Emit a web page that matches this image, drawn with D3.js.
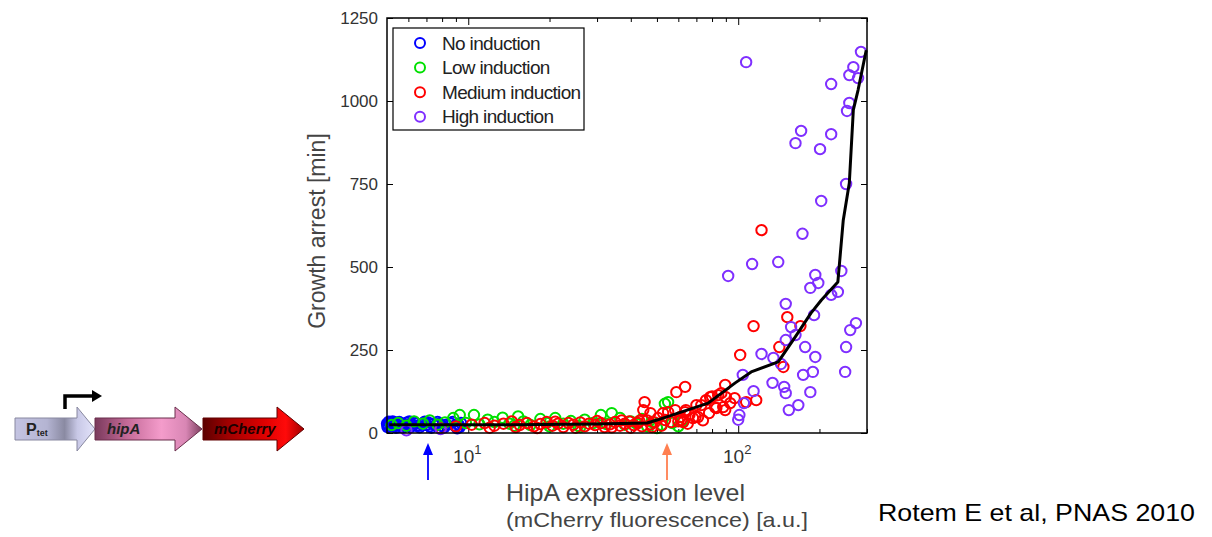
<!DOCTYPE html>
<html>
<head>
<meta charset="utf-8">
<script src="https://cdn.jsdelivr.net/npm/d3@7"></script>
<style>
  html, body { margin: 0; padding: 0; background: #fff; }
  svg { display: block; }
  text { font-family: "Liberation Sans", Arial, sans-serif; }
</style>
</head>
<body>
<svg id="fig" width="1212" height="537"></svg>
<script>
// ---- data: HipA expression (mCherry, a.u.) vs growth arrest (min) ----
const seriesNames = ["No induction", "Low induction", "Medium induction", "High induction"];
const seriesColors = ["#0000ff", "#00e000", "#ff0000", "#7f2fff"];

const noInduction = [
  [5.0,28],[5.05,22],[5.1,30],[5.15,25],[5.2,20],[5.3,27],[5.35,32],[5.45,24],[5.5,18],
  [5.6,29],[5.7,23],[5.8,26],[5.9,31],[6.0,21],[6.1,27],[6.25,24],[6.4,29],[6.55,22],
  [6.7,26],[6.85,30],[7.0,24],[7.2,20],[7.4,27],[7.6,23],[7.8,28],[8.0,21],[8.3,25],
  [8.6,29],[8.9,22],[9.2,26],[9.3,18],[7.1,32],[5.25,35],[6.3,33],
  [5.02,18],[5.08,34],[5.4,16],[5.55,33],[5.75,17],[6.05,35],[6.6,17],[6.9,34],[7.3,16],
  [7.7,33],[8.15,17],[8.75,33],[9.1,14],[9.4,30],[5.65,20],[6.15,19]
];
const lowInduction = [
  [5.2,24],[5.5,30],[5.9,22],[6.3,35],[6.8,28],[7.2,38],[7.7,25],[8.2,32],[8.8,45],
  [9.3,54],[9.8,30],[10.5,54],[11.0,26],[11.8,40],[12.5,33],[13.4,46],[14.2,28],[15.3,50],
  [16.0,35],[17.0,24],[18.5,42],[19.5,30],[21,45],[22.5,28],[24,36],[25.5,22],[27,40],
  [29,30],[31,54],[32.5,27],[34,60],[36.5,45],[38,25],[40,35],[42,28],[44,42],[46,20],
  [48,33],[50,15],[52,25],[53.5,88],[55,93],[57,30],[60,20],[62,35],[14.8,22],[20,20],[26,18]
];
const mediumInduction = [
  [7.9,14],[9.0,20],[10.3,25],[11.5,30],[12.5,22],[13.5,28],[14.5,35],[15.5,24],[16.5,30],
  [17.5,20],[18.5,27],[19.5,33],[20.5,22],[21.5,28],[22.5,18],[23.5,30],[24.5,25],[26,32],
  [27,20],[28,28],[29.5,24],[31,30],[32,18],[33.5,26],[35,33],[36.5,22],[38,28],[39.5,35],
  [41,24],[42.5,30],[44,20],[45,93],[44.5,69],[46,38],[47.5,26],[49,32],[50.5,45],[52,22],
  [52.7,60],[53.6,39],[55,63],[56.5,33],[58.4,69],[59,123],[60,35],[61,48],[62.6,33],
  [63.6,63],[63.6,139],[65,28],[66,55],[68,45],[70,84],[71,48],[73,84],[74,38],[76,99],
  [78,60],[80,110],[83,75],[84.3,114],[86.6,120],[89.5,145],[89.5,69],[93.4,90],[97,105],
  [101.7,235],[107,93],[114,322],[116.6,99],[122,611],[142,259],[147,199],[152,349],
  [170,322],[47.3,60],[64,69],[69.5,48],[61.5,39],[82,78],[88,78],[90,108],[78.7,108],
  [12,16],[15,18],[18,15],[21,34],[25,16],[30,36],[34,17],[37,38],[40,16],[43,36],[48,18]
];
const highInduction = [
  [107,1117],[285,1148],[267,1102],[258,1078],[278,1069],[221,1051],[258,994],[253,970],
  [171,910],[163,873],[201,855],[221,900],[251,750],[203,699],[173,600],[91.8,473],
  [112.6,509],[140.7,515],[193,476],[185,437],[198,452],[221,416],[234,425],[241,488],
  [150,389],[191,355],[157,319],[163,295],[150,280],[273,331],[260,310],[251,259],
  [177,259],[193,229],[122,238],[135,226],[144,208],[189,184],[174,175],[249,184],
  [104,175],[134,151],[148,139],[150,120],[185,123],[114,126],[167,84],[154,69],
  [105,90],[101,54],[5.9,8],[7.9,12],[100,40]
];

// binned mean curve
const meanX = [5.1, 8, 15, 30, 46, 50, 77.4, 97.5, 111.7, 140.7, 162.5, 186, 203, 234, 245, 258, 267, 278, 298];
const meanY = [25, 25, 25, 27, 30, 39, 90, 151, 184, 214, 289, 361, 400, 455, 641, 753, 973, 1033, 1153];

const yTicks = [0, 250, 500, 750, 1000, 1250];
const xMajorTicks = [10, 100];
const xMinorTicks = [6, 7, 8, 9, 20, 30, 40, 50, 60, 70, 80, 90, 200, 300];
const xTickExponents = ["1", "2"];

// ---- layout ----
const svg = d3.select("#fig");
const plot = { left: 387, right: 867, top: 18, bottom: 433 };

const x = d3.scaleLog().domain([5, 300]).range([plot.left, plot.right]);
const y = d3.scaleLinear().domain([0, 1250]).range([plot.bottom, plot.top]);

// ---- axes box and ticks (ticks point inward) ----
const axesG = svg.append("g");

const yAxis = d3.axisLeft(y).tickValues(yTicks).tickSize(-6).tickPadding(9).tickFormat(d3.format("d"));
axesG.append("g").attr("transform", `translate(${plot.left},0)`).call(yAxis)
  .call(g => g.select(".domain").remove())
  .call(g => g.selectAll("line").attr("stroke", "#000"))
  .call(g => g.selectAll("text").attr("font-size", 17).attr("fill", "#333")
    .attr("font-family", "Liberation Sans, Arial, sans-serif"));

const yAxisR = d3.axisRight(y).tickValues(yTicks).tickSize(-6).tickFormat("");
axesG.append("g").attr("transform", `translate(${plot.right},0)`).call(yAxisR)
  .call(g => g.select(".domain").remove())
  .call(g => g.selectAll("line").attr("stroke", "#000"));

const xAxisMajor = d3.axisBottom(x).tickValues(xMajorTicks).tickSize(-7).tickFormat("");
const xAxisMinor = d3.axisBottom(x).tickValues(xMinorTicks).tickSize(-4).tickFormat("");
axesG.append("g").attr("transform", `translate(0,${plot.bottom})`).call(xAxisMajor)
  .call(g => g.select(".domain").remove()).call(g => g.selectAll("line").attr("stroke", "#000"));
axesG.append("g").attr("transform", `translate(0,${plot.bottom})`).call(xAxisMinor)
  .call(g => g.select(".domain").remove()).call(g => g.selectAll("line").attr("stroke", "#000"));
const xAxisMajorT = d3.axisTop(x).tickValues(xMajorTicks).tickSize(-7).tickFormat("");
const xAxisMinorT = d3.axisTop(x).tickValues(xMinorTicks).tickSize(-4).tickFormat("");
axesG.append("g").attr("transform", `translate(0,${plot.top})`).call(xAxisMajorT)
  .call(g => g.select(".domain").remove()).call(g => g.selectAll("line").attr("stroke", "#000"));
axesG.append("g").attr("transform", `translate(0,${plot.top})`).call(xAxisMinorT)
  .call(g => g.select(".domain").remove()).call(g => g.selectAll("line").attr("stroke", "#000"));

// x tick labels 10^1, 10^2
const xLab = axesG.selectAll("text.xlab").data(xMajorTicks).join("text")
  .attr("class", "xlab")
  .attr("x", d => x(d) - 1)
  .attr("y", plot.bottom + 30)
  .attr("text-anchor", "middle")
  .attr("font-size", 19)
  .attr("fill", "#333");
xLab.append("tspan").text("10");
xLab.append("tspan").attr("dy", -9).attr("font-size", 13).text((d, i) => xTickExponents[i]);

// ---- data marks ----
const allSeries = [noInduction, lowInduction, mediumInduction, highInduction];
const marksG = svg.append("g");
allSeries.forEach((pts, i) => {
  marksG.append("g").selectAll("circle").data(pts).join("circle")
    .attr("cx", d => x(d[0]))
    .attr("cy", d => y(d[1]))
    .attr("r", 5.2)
    .attr("fill", "none")
    .attr("stroke", seriesColors[i])
    .attr("stroke-width", 2);
});

// mean curve
const line = d3.line().x(d => x(d[0])).y(d => y(d[1]));
svg.append("path")
  .datum(meanX.map((v, i) => [v, meanY[i]]))
  .attr("d", line)
  .attr("fill", "none")
  .attr("stroke", "#000")
  .attr("stroke-width", 3)
  .attr("stroke-linejoin", "round");

// axes frame on top
svg.append("rect")
  .attr("x", plot.left).attr("y", plot.top)
  .attr("width", plot.right - plot.left).attr("height", plot.bottom - plot.top)
  .attr("fill", "none").attr("stroke", "#000").attr("stroke-width", 1.5);

// ---- legend ----
const leg = svg.append("g");
leg.append("rect").attr("x", 393).attr("y", 28).attr("width", 191).attr("height", 102)
  .attr("fill", "#fff").attr("stroke", "#000").attr("stroke-width", 1.2);
seriesNames.forEach((name, i) => {
  const cy = 43 + i * 24.6;
  leg.append("circle").attr("cx", 420).attr("cy", cy).attr("r", 5)
    .attr("fill", "none").attr("stroke", seriesColors[i]).attr("stroke-width", 2);
  leg.append("text").attr("x", 442).attr("y", cy + 6.5).attr("font-size", 19)
    .attr("letter-spacing", -0.65).attr("fill", "#222").text(name);
});

// ---- axis titles ----
svg.append("text")
  .attr("transform", "translate(325,231) rotate(-90)")
  .attr("text-anchor", "middle")
  .attr("font-size", 23)
  .attr("fill", "#444")
  .text("Growth arrest [min]");
svg.append("text").attr("x", 506).attr("y", 501).attr("font-size", 24).attr("fill", "#444")
  .attr("textLength", 239).attr("lengthAdjust", "spacingAndGlyphs")
  .text("HipA expression level");
svg.append("text").attr("x", 506).attr("y", 527).attr("font-size", 21).attr("fill", "#444")
  .attr("textLength", 302).attr("lengthAdjust", "spacingAndGlyphs")
  .text("(mCherry fluorescence) [a.u.]");

// induction-level markers below the axis
function upArrow(cx, color) {
  svg.append("line").attr("x1", cx).attr("x2", cx).attr("y1", 480).attr("y2", 452)
    .attr("stroke", color).attr("stroke-width", 1.8);
  svg.append("path").attr("d", `M${cx - 5},${455} L${cx},${443} L${cx + 5},${455} Z`).attr("fill", color);
}
upArrow(428, "#0000ff");
upArrow(667, "#ff7f50");

// citation
svg.append("text").attr("x", 878).attr("y", 521)
  .attr("font-family", "Open Sans, Liberation Sans, sans-serif")
  .attr("font-size", 24).attr("fill", "#000")
  .attr("textLength", 317).attr("lengthAdjust", "spacingAndGlyphs")
  .text("Rotem E et al, PNAS 2010");

// ---- construct diagram: Ptet -> hipA -> mCherry ----
const defs = svg.append("defs");
function grad(id, stops) {
  const g = defs.append("linearGradient").attr("id", id).attr("x1", "0").attr("x2", "1").attr("y1", "0").attr("y2", "0");
  stops.forEach(s => g.append("stop").attr("offset", s[0]).attr("stop-color", s[1]));
}
grad("gP", [[0, "#c4c4e2"], [0.4, "#b4b4d2"], [0.62, "#8a8aa2"], [0.78, "#c8c8e6"], [1, "#e4e4fb"]]);
grad("gH", [[0, "#7a3a5c"], [0.3, "#c46a98"], [0.62, "#f49ccb"], [0.85, "#d886b4"], [1, "#7c3e5e"]]);
grad("gM", [[0, "#5c0000"], [0.25, "#a00000"], [0.6, "#dd0000"], [0.82, "#ff0a0a"], [1, "#a00000"]]);

function geneArrow(x0, xh, xt, fill, stroke) {
  const bt = 418, bb = 440, ht = 407, hb = 451, mid = 429;
  svg.append("path")
    .attr("d", `M${x0},${bt} L${xh},${bt} L${xh},${ht} L${xt},${mid} L${xh},${hb} L${xh},${bb} L${x0},${bb} Z`)
    .attr("fill", fill).attr("stroke", stroke).attr("stroke-width", 1);
}
geneArrow(15, 77, 95, "url(#gP)", "#8888a0");
geneArrow(95, 175, 202, "url(#gH)", "#6a2f4c");
geneArrow(203, 277, 304, "url(#gM)", "#600000");

// promoter bent arrow
svg.append("path").attr("d", "M65,409 L65,396 L93,396").attr("fill", "none")
  .attr("stroke", "#000").attr("stroke-width", 3.5);
svg.append("path").attr("d", "M92,390 L102,396 L92,402 Z").attr("fill", "#000");

const pt = svg.append("text").attr("x", 26).attr("y", 435).attr("font-size", 16)
  .attr("font-weight", "bold").attr("fill", "#222");
pt.append("tspan").text("P");
pt.append("tspan").attr("font-size", 9).attr("dy", 1).text("tet");
svg.append("text").attr("x", 107).attr("y", 434).attr("font-size", 15)
  .attr("font-weight", "bold").attr("font-style", "italic").attr("fill", "#222").text("hipA");
svg.append("text").attr("x", 214).attr("y", 434).attr("font-size", 15)
  .attr("font-weight", "bold").attr("font-style", "italic").attr("fill", "#1a0000").text("mCherry");
</script>
</body>
</html>
